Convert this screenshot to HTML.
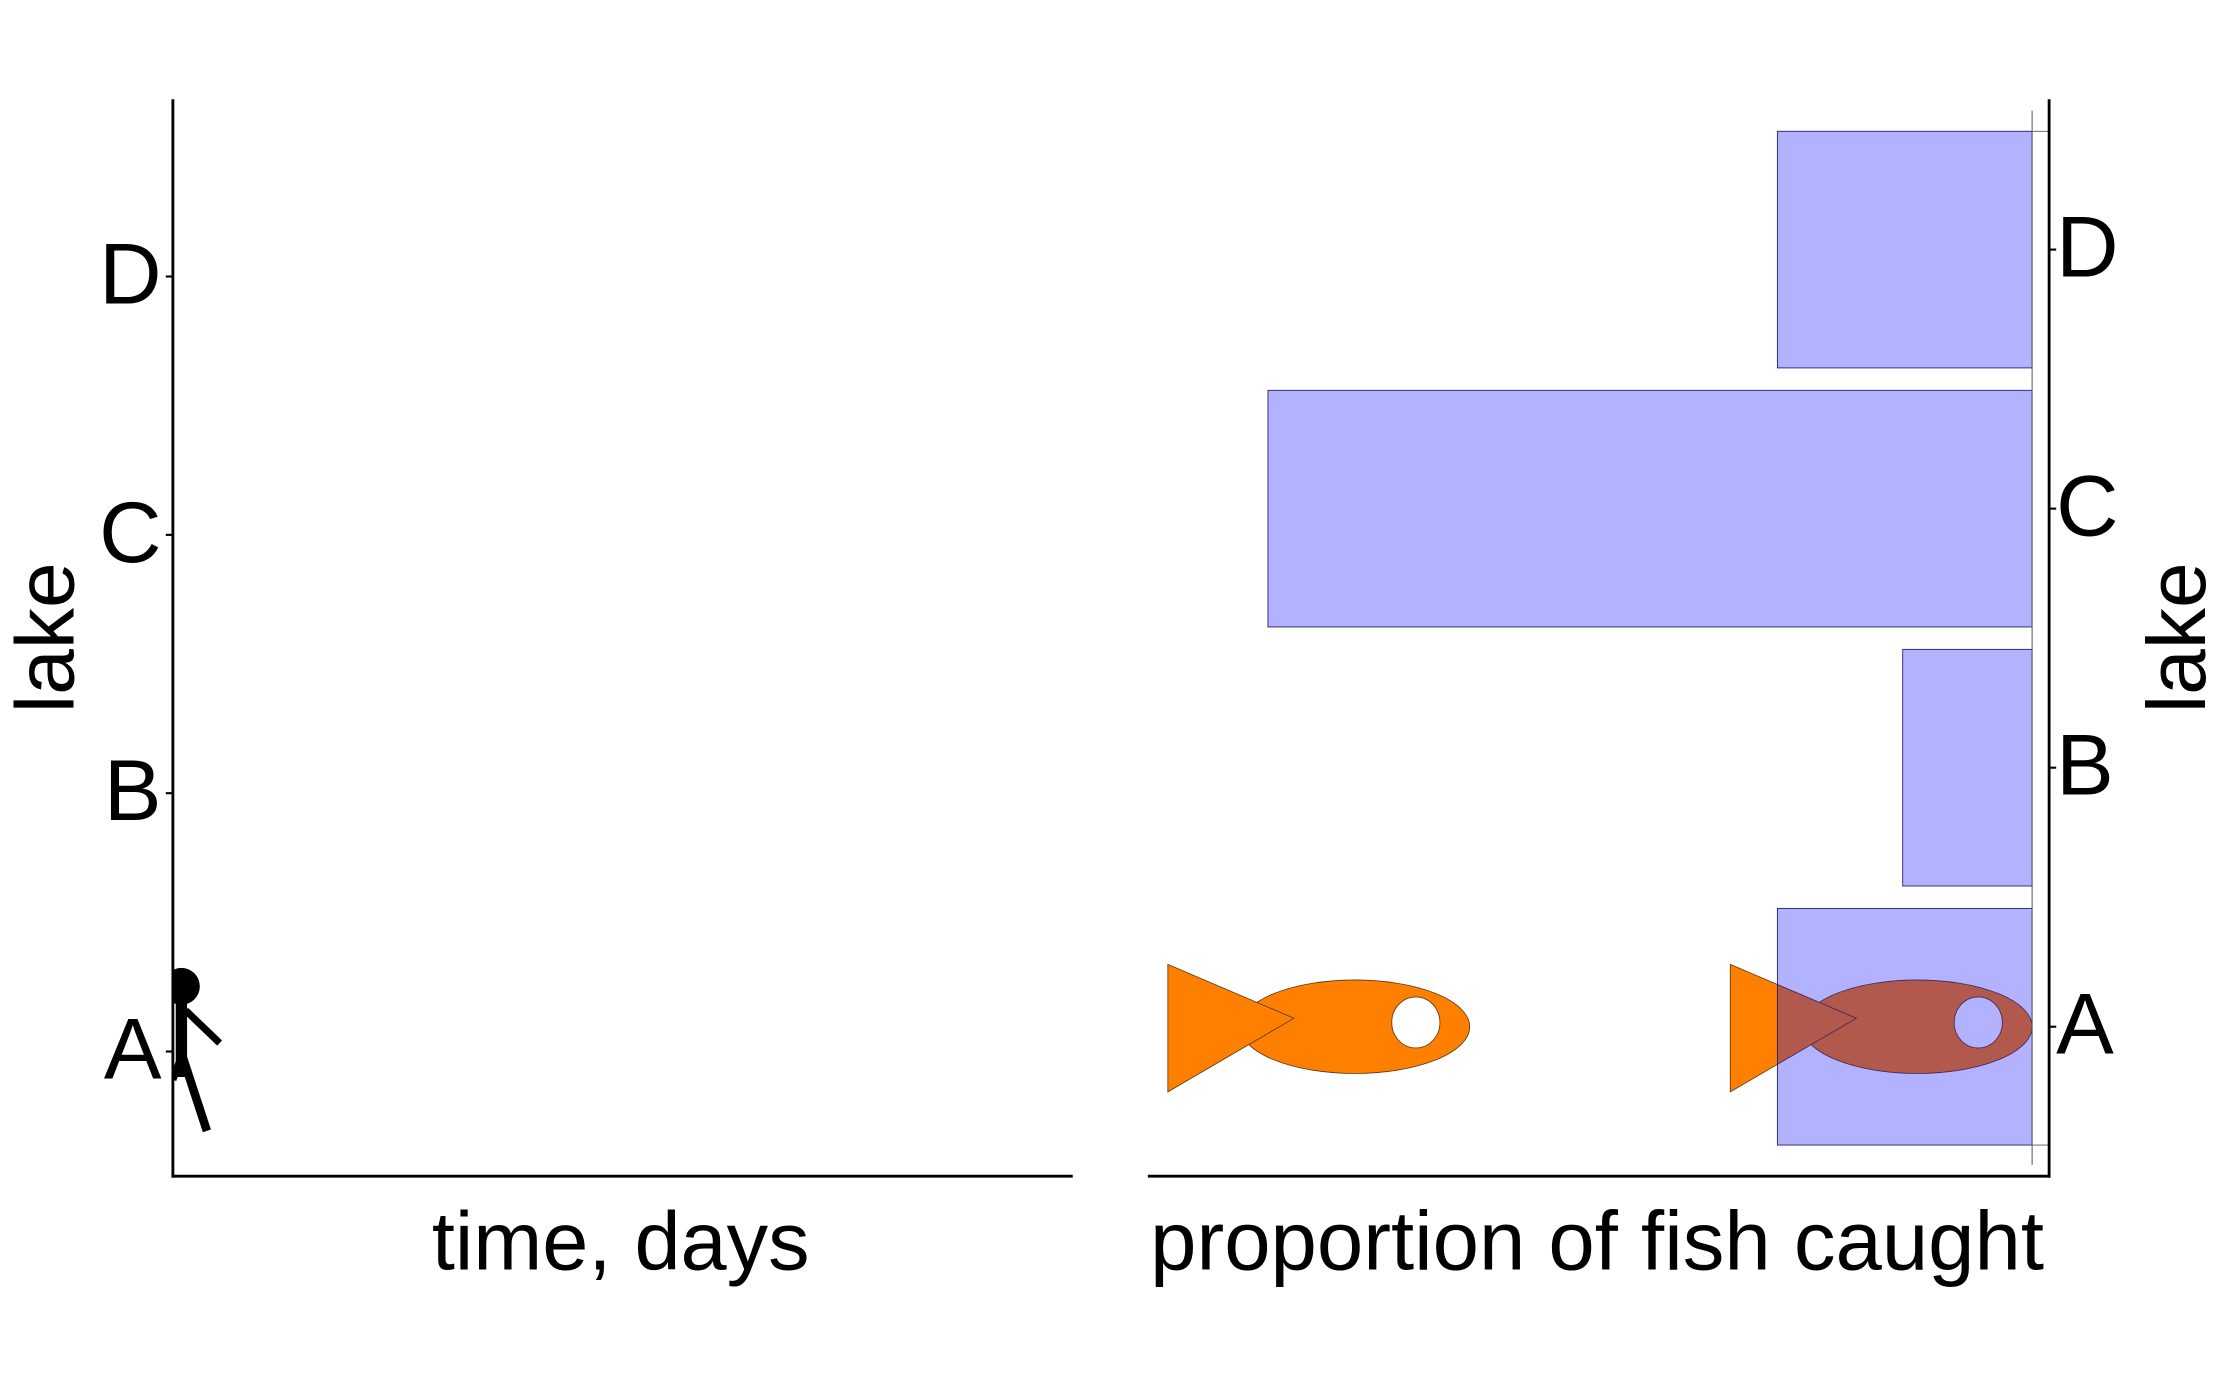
<!DOCTYPE html>
<html><head><meta charset="utf-8"><style>
html,body{margin:0;padding:0;background:#fff}
svg{display:block}
text{font-family:"Liberation Sans",Arial,sans-serif;fill:#000}
</style></head><body>
<svg id="chart" width="2222" height="1386" viewBox="0 0 1568 978" xmlns="http://www.w3.org/2000/svg">
<defs><clipPath id="plotclip"><rect x="122" y="0" width="640" height="830"/></clipPath></defs>
<g id="left">
  <line x1="122" y1="70" x2="122" y2="831" stroke="#000" stroke-width="2"/>
  <line x1="121" y1="830" x2="757" y2="830" stroke="#000" stroke-width="2"/>
  <text transform="translate(52,450) rotate(-90)" text-anchor="middle" font-size="58">lake</text>
  <text x="438" y="896" text-anchor="middle" font-size="58.5">time, days</text>
  <g clip-path="url(#plotclip)">
    <circle cx="128" cy="696" r="13" fill="#000"/>
    <line x1="128" y1="705" x2="128" y2="760" stroke="#000" stroke-width="8"/>
    <line x1="131" y1="713" x2="155" y2="736" stroke="#000" stroke-width="5"/>
    <line x1="127" y1="740" x2="146" y2="798" stroke="#000" stroke-width="6"/>
    <line x1="127" y1="748" x2="122" y2="762" stroke="#000" stroke-width="5"/>
  </g>
</g>
<g id="right">
  <g id="fish"></g>
  <g id="bars"></g>
  <line x1="810" y1="830" x2="1447" y2="830" stroke="#000" stroke-width="2"/>
  <line x1="1446" y1="70" x2="1446" y2="831" stroke="#000" stroke-width="2"/>
  <line x1="1434" y1="78" x2="1434" y2="822" stroke="#555" stroke-width="0.7"/>
  <text transform="translate(1556,450) rotate(-90)" text-anchor="middle" font-size="58">lake</text>
  <text x="1127" y="896" text-anchor="middle" font-size="58.8">proportion of fish caught</text>
</g>
<g id="ticks"></g>
</svg>
<script>
const lakes = ["A","B","C","D"];
const proportions = [0.25, 0.127, 0.75, 0.25];
const fishPositions = [0.552, 0.0];
const NS="http://www.w3.org/2000/svg";
function mk(tag,attrs,parent){const e=document.createElementNS(NS,tag);for(const k in attrs)e.setAttribute(k,attrs[k]);parent.appendChild(e);return e;}
const xZero=1434, pxPerUnit=719;
function xR(v){return xZero - v*pxPerUnit;}
function yLeft(i){return 742 - i*182.3;}
function yRight(i){return 724.5 - i*182.8;}
const bandH=167;
const ticks=document.getElementById('ticks');
lakes.forEach((l,i)=>{
  const t1=mk('line',{x1:117,y1:yLeft(i),x2:122,y2:yLeft(i),stroke:'#000','stroke-width':1.5},ticks);
  
  
  const tl=mk('text',{x:114,y:yLeft(i)+19,'text-anchor':'end','font-size':61},ticks);
  tl.textContent=l;
  
  
  const t2=mk('line',{x1:1446,y1:yRight(i),x2:1451,y2:yRight(i),stroke:'#000','stroke-width':1.5},ticks);
  
  
  const tr=mk('text',{x:1451,y:yRight(i)+19,'font-size':61},ticks);
  tr.textContent=l;
  
  
});
const fishG=document.getElementById('fish');
fishPositions.forEach((p,k)=>{
  const nx=xR(p), cy=yRight(0);
  const g=mk('g',{},fishG);
  
  
  mk('ellipse',{cx:nx-81,cy:cy,rx:81,ry:33,fill:'#ff8000',stroke:'#5a3a1a','stroke-width':0.6},g);
  mk('polygon',{points:`${nx-213},${cy-44} ${nx-213},${cy+46} ${nx-124},${cy-6}`,fill:'#ff8000',stroke:'#5a3a1a','stroke-width':0.6},g);
  mk('ellipse',{cx:nx-38,cy:cy-3,rx:17,ry:18,fill:'#fff',stroke:'#5a3a1a','stroke-width':0.6},g);
});
const barsG=document.getElementById('bars');
lakes.forEach((l,i)=>{
  const x=xR(proportions[i]), y=yRight(i)-bandH/2;
  const r=mk('rect',{x:x,y:y,width:xZero-x,height:bandH,fill:'rgba(0,0,255,0.3)',stroke:'#1a1a66','stroke-width':0.6},barsG);
  
  
});
const topL=mk('line',{x1:xZero,y1:yRight(3)-bandH/2,x2:1446,y2:yRight(3)-bandH/2,stroke:'#555','stroke-width':0.6},barsG);


const botL=mk('line',{x1:xZero,y1:yRight(0)+bandH/2,x2:1446,y2:yRight(0)+bandH/2,stroke:'#555','stroke-width':0.6},barsG);


</script>
</body></html>
